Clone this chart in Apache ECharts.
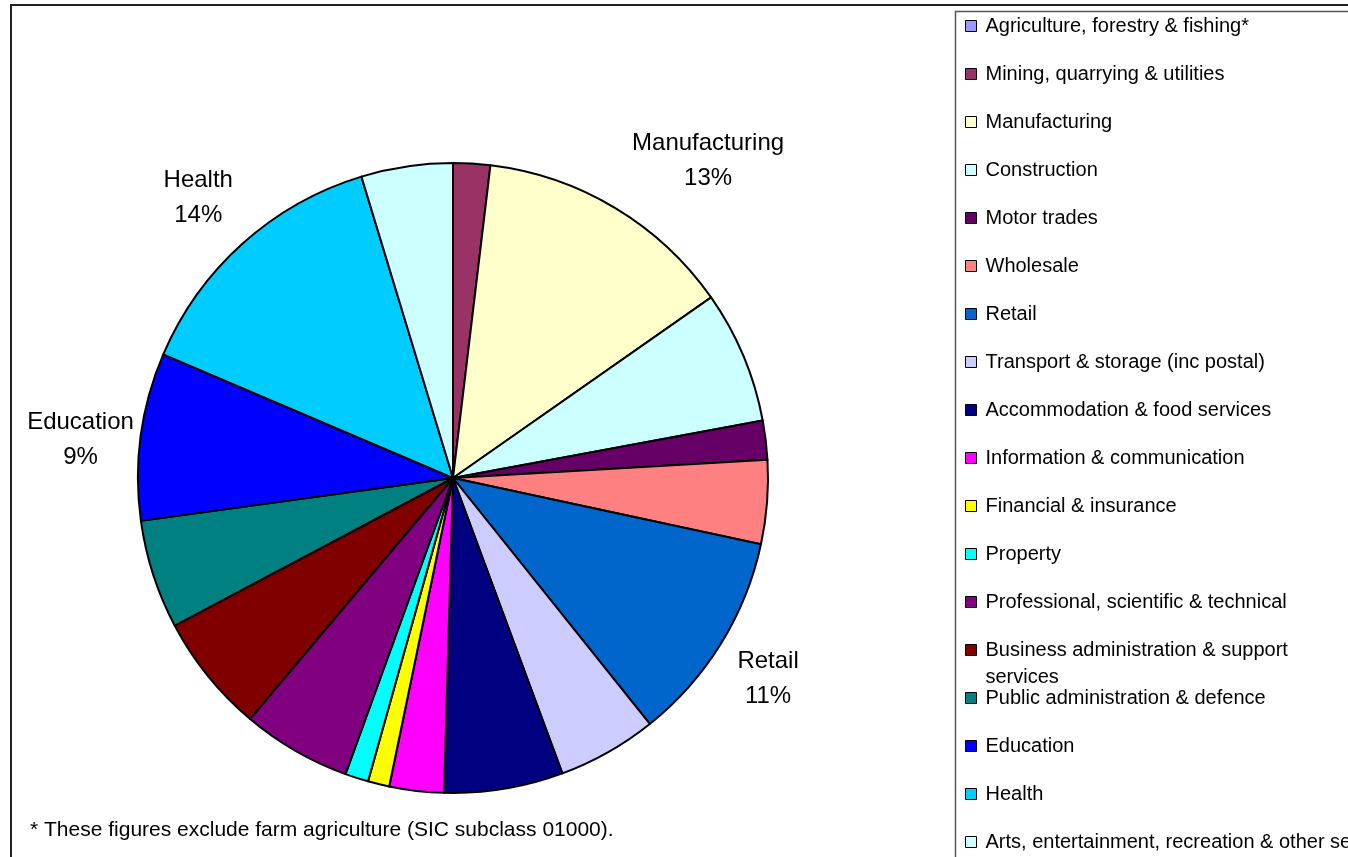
<!DOCTYPE html>
<html>
<head>
<meta charset="utf-8">
<script src="https://cdn.jsdelivr.net/npm/echarts@6/dist/echarts.min.js"></script>
<style>
html,body{margin:0;padding:0;background:#fff;}
#chart{width:1348px;height:857px;}
</style>
</head>
<body>
<div id="chart"></div>
<script>
const categories = [
  'Agriculture, forestry & fishing*',
  'Mining, quarrying & utilities',
  'Manufacturing',
  'Construction',
  'Motor trades',
  'Wholesale',
  'Retail',
  'Transport & storage (inc postal)',
  'Accommodation & food services',
  'Information & communication',
  'Financial & insurance',
  'Property',
  'Professional, scientific & technical',
  'Business administration & support services',
  'Public administration & defence',
  'Education',
  'Health',
  'Arts, entertainment, recreation & other services'
];
const shares = [0, 1.9, 13.4, 6.8, 2.0, 4.3, 10.9, 5.1, 6.1, 2.8, 1.1, 1.2, 5.6, 6.1, 5.6, 8.6, 13.9, 4.7];
const colors = ['#9999FF','#993366','#FFFFCC','#CCFFFF','#660066','#FF8080','#0066CC','#CCCCFF','#000080','#FF00FF','#FFFF00','#00FFFF','#800080','#800000','#008080','#0000FF','#00CCFF','#CCFFFF'];
const labelledCategories = ['Manufacturing', 'Retail', 'Education', 'Health'];
const footnote = '* These figures exclude farm agriculture (SIC subclass 01000).';

// label placement tweaks (style only): vertical anchor, dx, dy
const labelTweaks = {
  'Manufacturing': ['bottom', 7, -3],
  'Retail': ['top', 3, -5],
  'Health': ['bottom', 2, -3],
  'Education': ['middle', 8, 5]
};

const FONT = 'Liberation Sans';
const LH = 27;
const STEP = 48;
const BUSINESS = 'Business administration & support services';
const BUSINESS_INDEX = categories.indexOf(BUSINESS);

const pieData = categories.map((c, i) => ({
  name: c,
  value: shares[i],
  itemStyle: { color: colors[i] },
  label: { show: labelledCategories.indexOf(c) >= 0 }
}));

function legendItems(from, to) {
  return categories.slice(from, to).map(c => ({
    name: c,
    itemStyle: { color: colors[categories.indexOf(c)], borderColor: '#000', borderWidth: 1 }
  }));
}

const legendCommon = {
  orient: 'vertical',
  left: 965,
  padding: 0,
  itemWidth: 11,
  itemHeight: 11,
  itemGap: STEP - LH,
  icon: 'rect',
  selectedMode: false,
  textStyle: { fontFamily: FONT, fontSize: 20, color: '#000', lineHeight: LH, padding: [0, 0, 0, 4] },
  formatter: function (name) {
    // wrapped entry: empty first line keeps the first text line level with the key
    if (name === BUSINESS) return '\nBusiness administration & support\nservices';
    return name;
  }
};

const FIRST = 26;
const chart = echarts.init(document.getElementById('chart'), null, { renderer: 'canvas' });
chart.setOption({
  animation: false,
  backgroundColor: '#fff',
  textStyle: { fontFamily: FONT },
  title: {
    text: footnote,
    left: 30,
    top: 820,
    padding: 0,
    textStyle: { fontFamily: FONT, fontSize: 21, fontWeight: 'normal', color: '#000' }
  },
  graphic: [
    { type: 'rect', shape: { x: 11, y: 5, width: 1400, height: 900 }, style: { fill: 'none', stroke: '#222', lineWidth: 2 }, z: -1 },
    { type: 'rect', shape: { x: 955.5, y: 11.5, width: 500, height: 900 }, style: { fill: 'none', stroke: '#555', lineWidth: 1.5 }, z: -1 }
  ],
  legend: [
    Object.assign({}, legendCommon, { top: FIRST - LH / 2, data: legendItems(0, BUSINESS_INDEX) }),
    Object.assign({}, legendCommon, { top: FIRST + BUSINESS_INDEX * STEP - LH * 1.5, data: legendItems(BUSINESS_INDEX, BUSINESS_INDEX + 1) }),
    Object.assign({}, legendCommon, { top: FIRST + (BUSINESS_INDEX + 1) * STEP - LH / 2, data: legendItems(BUSINESS_INDEX + 1, categories.length) })
  ],
  series: [{
    type: 'pie',
    center: [453, 478],
    radius: 315,
    startAngle: 90,
    clockwise: true,
    avoidLabelOverlap: false,
    stillShowZeroSum: true,
    minAngle: 0,
    itemStyle: { borderColor: '#000', borderWidth: 2 },
    emphasis: { disabled: true },
    label: {
      position: 'outside',
      color: '#000',
      formatter: p => '{t|' + p.name + '}\n{t|' + Math.round(p.percent) + '%}',
      rich: {
        t: { fontFamily: FONT, fontSize: 24, lineHeight: 35, color: '#000', align: 'center' }
      }
    },
    labelLine: { show: false, length: 10, length2: 0 },
    labelLayout: function (params) {
      const tw = labelTweaks[categories[params.dataIndex]];
      if (!tw) return {};
      return { verticalAlign: tw[0], dx: tw[1], dy: tw[2] };
    },
    data: pieData
  }]
});
</script>
</body>
</html>
